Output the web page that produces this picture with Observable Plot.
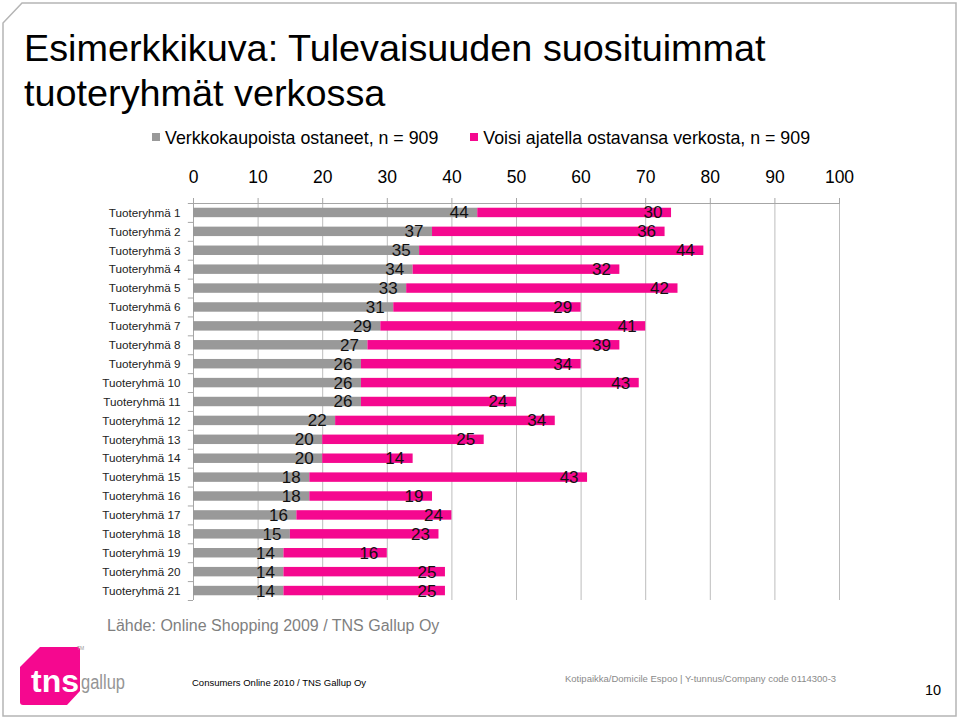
<!DOCTYPE html>
<html><head><meta charset="utf-8">
<script src="https://cdn.jsdelivr.net/npm/d3@7"></script>
<script src="https://cdn.jsdelivr.net/npm/@observablehq/plot@0.6"></script>
<style>
body{margin:0;background:#fff;}
#page{position:relative;width:960px;height:719px;overflow:hidden;font-family:"Liberation Sans",Arial,sans-serif;background:#fff;}
#page > *{position:absolute;}
#title{left:24px;top:26px;font-size:37.8px;line-height:45px;color:#000;white-space:nowrap;}
#legend{left:152px;top:127px;font-size:17.8px;line-height:22px;white-space:nowrap;color:#000;}
.sw{display:inline-block;width:8px;height:8px;margin-right:5px;vertical-align:middle;position:relative;top:-2px;}
#chart{left:0;top:150px;}
#source{left:107px;top:616px;font-size:16px;line-height:20px;color:#7f7f7f;white-space:nowrap;}
#foot1{left:192px;top:677px;font-size:9.5px;line-height:12px;color:#000;white-space:nowrap;}
#foot2{left:565px;top:673px;font-size:9.5px;line-height:12px;color:#8a8a8a;white-space:nowrap;}
#pageno{left:925px;top:681px;font-size:14.5px;line-height:18px;color:#000;}
</style></head><body>
<div id="page">
  <svg id="border" style="left:0;top:0" width="960" height="719">
    <path d="M22,3 L956,3 L956,716 L3,716 L3,23 Z" fill="none" stroke="#b5b5b5" stroke-width="1.5"/>
  </svg>
  <div id="title">Esimerkkikuva: Tulevaisuuden suosituimmat<br>tuoteryhmät verkossa</div>
  <div id="legend"></div>
  <div id="chart"></div>
  <div id="source">Lähde: Online Shopping 2009 / TNS Gallup Oy</div>
  <svg id="logo" style="left:0;top:630px" width="140" height="85">
    <path d="M40,17 L77,17 Q80,17 80,20 L80,61 L67,75 L23,75 Q20,75 20,72 L20,37 Z" fill="#F5088F"/>
    <text x="31" y="62" font-family="'Liberation Sans',Arial,sans-serif" font-weight="bold" font-size="32" fill="#fff">tns</text>
    <text x="81" y="59" font-family="'Liberation Sans',Arial,sans-serif" font-size="20" fill="#959595" textLength="44" lengthAdjust="spacingAndGlyphs">gallup</text>
    <text x="77" y="20" font-family="Arial,sans-serif" font-size="5" fill="#999">TM</text>
  </svg>
  <div id="foot1">Consumers Online 2010 / TNS Gallup Oy</div>
  <div id="foot2">Kotipaikka/Domicile Espoo | Y-tunnus/Company code 0114300-3</div>
  <div id="pageno">10</div>
</div>
<script>
const categories = ["Tuoteryhmä 1","Tuoteryhmä 2","Tuoteryhmä 3","Tuoteryhmä 4","Tuoteryhmä 5","Tuoteryhmä 6","Tuoteryhmä 7","Tuoteryhmä 8","Tuoteryhmä 9","Tuoteryhmä 10","Tuoteryhmä 11","Tuoteryhmä 12","Tuoteryhmä 13","Tuoteryhmä 14","Tuoteryhmä 15","Tuoteryhmä 16","Tuoteryhmä 17","Tuoteryhmä 18","Tuoteryhmä 19","Tuoteryhmä 20","Tuoteryhmä 21"];
const ostaneet = [44,37,35,34,33,31,29,27,26,26,26,22,20,20,18,18,16,15,14,14,14];
const voisi = [30,36,44,32,42,29,41,39,34,43,24,34,25,14,43,19,24,23,16,25,25];
const seriesNames = ["Verkkokaupoista ostaneet, n = 909","Voisi ajatella ostavansa verkosta, n = 909"];
const seriesColors = ["#999999","#F5088F"];
const xTicks = [0,10,20,30,40,50,60,70,80,90,100];

// legend
const lg = document.getElementById("legend");
lg.innerHTML =
  `<span class="sw" style="background:${seriesColors[0]}"></span>${seriesNames[0]}` +
  `<span style="display:inline-block;width:32px"></span>` +
  `<span class="sw" style="background:${seriesColors[1]}"></span>${seriesNames[1]}`;

const rows = [];
categories.forEach((c, i) => rows.push({cat: c, series: seriesNames[0], value: ostaneet[i]}));
categories.forEach((c, i) => rows.push({cat: c, series: seriesNames[1], value: voisi[i]}));

const W = 960, H = 460, mt = 53, mb = 10, ml = 193, mr = 121;
const step = (H - mt - mb) / categories.length;
const axisColor = "#a6a6a6";

const chart = Plot.plot({
  width: W, height: H,
  marginTop: mt, marginBottom: mb, marginLeft: ml, marginRight: mr,
  style: {fontFamily: '"Liberation Sans", Arial, sans-serif', background: "transparent", color: "#000"},
  x: {domain: [0, 100]},
  y: {domain: categories, paddingInner: 0.5, paddingOuter: 0.25, round: false},
  color: {domain: seriesNames, range: seriesColors},
  marks: [
    Plot.gridX(xTicks.slice(1), {stroke: "#bdbdbd", strokeOpacity: 1}),
    Plot.frame({anchor: "top", stroke: axisColor}),
    Plot.ruleX([0], {stroke: axisColor}),
    Plot.axisX(xTicks, {anchor: "top", tickSize: 6, tickPadding: 15, fontSize: 17.5, stroke: axisColor, fill: "#000", label: null, tickFormat: d => String(d)}),
    Plot.axisY({tickSize: 0, tickPadding: 13, fontSize: 11.7, fill: "#222", label: null}),
    Plot.ruleY(categories, {x1: -0.8, x2: 0, dy: -step / 2, stroke: axisColor}),
    Plot.ruleY(categories.slice(-1), {x1: -0.8, x2: 0, dy: step / 2, stroke: axisColor}),
    Plot.barX(rows, Plot.stackX({x: "value", y: "cat", fill: "series"})),
    Plot.text(rows, Plot.stackX2({x: "value", y: "cat", text: d => String(d.value), textAnchor: "end", dx: -9, dy: 0, fontSize: 17, fill: "#111"}))
  ]
});
document.getElementById("chart").appendChild(chart);
</script>
</body></html>
